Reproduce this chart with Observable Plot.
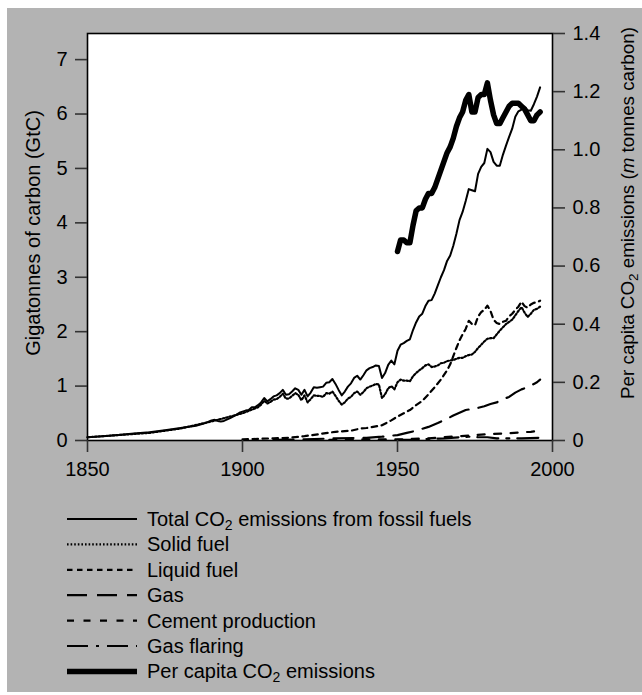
<!DOCTYPE html>
<html>
<head>
<meta charset="utf-8">
<script src="https://cdn.jsdelivr.net/npm/d3@7"></script>
<script src="https://cdn.jsdelivr.net/npm/@observablehq/plot@0.6"></script>
<style>
  html, body { margin: 0; padding: 0; background: #fff; }
  #page { position: relative; width: 642px; height: 695px; overflow: hidden;
          font-family: "Liberation Sans", Arial, Helvetica, sans-serif; }
  #panel { position: absolute; left: 7px; top: 8px; width: 635px; height: 684px; background: #b3b3b3; }
  #chart, #overlay { position: absolute; left: 0; top: 0; }
</style>
</head>
<body>
<div id="page">
  <div id="panel"></div>
  <div id="chart"></div>
  <svg id="overlay" width="642" height="695"></svg>
</div>
<script>
// Global carbon emissions from fossil fuels, 1850–1996 (GtC) and per-capita emissions (t C)
const total = [
  [1850,0.06],[1855,0.08],[1860,0.10],[1865,0.13],[1870,0.15],[1875,0.19],[1880,0.23],[1885,0.27],
  [1888,0.32],[1890,0.37],[1891,0.38],[1892,0.36],[1893,0.35],[1894,0.36],[1896,0.41],[1898,0.47],
  [1899,0.51],[1900,0.53],[1901,0.55],[1902,0.56],[1903,0.61],[1904,0.61],[1905,0.65],[1906,0.70],
  [1907,0.78],[1908,0.72],[1909,0.76],[1910,0.81],[1911,0.83],[1912,0.87],[1913,0.93],[1914,0.84],
  [1915,0.85],[1916,0.90],[1917,0.96],[1918,0.93],[1919,0.84],[1920,0.93],[1921,0.81],[1922,0.88],
  [1923,0.98],[1924,0.97],[1925,0.98],[1926,0.99],[1927,1.06],[1928,1.07],[1929,1.13],[1930,1.04],
  [1931,0.93],[1932,0.83],[1933,0.90],[1934,0.99],[1935,1.05],[1936,1.15],[1937,1.19],[1938,1.12],
  [1939,1.20],[1940,1.29],[1941,1.33],[1942,1.35],[1943,1.38],[1944,1.37],[1945,1.15],[1946,1.24],
  [1947,1.39],[1948,1.47],[1949,1.40],[1950,1.65],[1951,1.76],[1952,1.79],[1953,1.83],[1954,1.86],
  [1955,2.03],[1956,2.17],[1957,2.28],[1958,2.33],[1959,2.47],[1960,2.57],[1961,2.58],[1962,2.70],
  [1963,2.85],[1964,3.00],[1965,3.13],[1966,3.30],[1967,3.40],[1968,3.58],[1969,3.80],[1970,4.05],
  [1971,4.20],[1972,4.40],[1973,4.62],[1974,4.60],[1975,4.58],[1976,4.90],[1977,5.03],[1978,5.10],
  [1979,5.36],[1980,5.30],[1981,5.12],[1982,5.05],[1983,5.05],[1984,5.25],[1985,5.42],[1986,5.58],
  [1987,5.73],[1988,5.95],[1989,6.05],[1990,6.08],[1991,6.12],[1992,6.07],[1993,6.06],[1994,6.18],
  [1995,6.32],[1996,6.49]
];

const solidFuel = [
  [1850,0.06],[1860,0.10],[1870,0.14],[1880,0.22],[1890,0.35],[1900,0.50],[1905,0.61],[1906,0.66],
  [1907,0.73],[1908,0.68],[1909,0.71],[1910,0.75],[1911,0.76],[1912,0.80],[1913,0.86],[1914,0.77],
  [1915,0.77],[1916,0.82],[1917,0.87],[1918,0.84],[1919,0.74],[1920,0.83],[1921,0.70],[1922,0.76],
  [1923,0.83],[1924,0.82],[1925,0.82],[1926,0.80],[1927,0.87],[1928,0.86],[1929,0.90],[1930,0.82],
  [1931,0.73],[1932,0.66],[1933,0.70],[1934,0.77],[1935,0.80],[1936,0.87],[1937,0.90],[1938,0.84],
  [1939,0.89],[1940,0.96],[1941,0.99],[1942,1.01],[1943,1.04],[1944,1.03],[1945,0.78],[1946,0.85],
  [1947,0.96],[1948,1.00],[1949,0.94],[1950,1.07],[1951,1.12],[1952,1.10],[1953,1.10],[1954,1.09],
  [1955,1.18],[1956,1.24],[1957,1.29],[1958,1.33],[1959,1.38],[1960,1.40],[1961,1.35],[1962,1.36],
  [1963,1.38],[1964,1.42],[1965,1.43],[1966,1.46],[1967,1.47],[1968,1.48],[1969,1.50],[1970,1.52],
  [1971,1.52],[1972,1.55],[1973,1.57],[1974,1.58],[1975,1.63],[1976,1.70],[1977,1.76],[1978,1.82],
  [1979,1.87],[1980,1.88],[1981,1.88],[1982,1.95],[1983,2.02],[1984,2.08],[1985,2.14],[1986,2.18],
  [1987,2.22],[1988,2.30],[1989,2.38],[1990,2.45],[1991,2.35],[1992,2.27],[1993,2.33],[1994,2.40],
  [1995,2.42],[1996,2.46]
];

const liquidFuel = [
  [1900,0.02],[1905,0.03],[1910,0.04],[1915,0.05],[1920,0.08],[1925,0.12],[1930,0.16],[1935,0.18],
  [1938,0.22],[1940,0.23],[1945,0.28],[1948,0.37],[1950,0.44],[1952,0.50],[1954,0.56],[1956,0.65],
  [1958,0.73],[1960,0.85],[1962,0.98],[1964,1.12],[1966,1.29],[1967,1.40],[1968,1.55],[1969,1.70],
  [1970,1.84],[1971,1.95],[1972,2.05],[1973,2.20],[1974,2.14],[1975,2.12],[1976,2.28],[1977,2.36],
  [1978,2.40],[1979,2.48],[1980,2.38],[1981,2.22],[1982,2.16],[1983,2.14],[1984,2.18],[1985,2.20],
  [1986,2.28],[1987,2.33],[1988,2.40],[1989,2.46],[1990,2.55],[1991,2.47],[1992,2.44],[1993,2.50],
  [1994,2.53],[1995,2.54],[1996,2.57]
];

const gasFuel = [
  [1910,0.01],[1920,0.02],[1930,0.04],[1940,0.05],[1945,0.07],[1950,0.10],[1953,0.14],[1956,0.18],
  [1960,0.25],[1963,0.32],[1966,0.40],[1968,0.46],[1970,0.51],[1972,0.56],[1974,0.58],[1976,0.60],
  [1978,0.63],[1980,0.67],[1982,0.70],[1984,0.76],[1986,0.80],[1988,0.88],[1990,0.94],[1992,0.98],
  [1994,1.04],[1995,1.07],[1996,1.12]
];

const cement = [
  [1928,0.01],[1940,0.02],[1950,0.02],[1955,0.03],[1960,0.04],[1965,0.06],[1970,0.08],[1975,0.10],
  [1980,0.12],[1985,0.13],[1990,0.15],[1993,0.16],[1996,0.18]
];

const gasFlaring = [
  [1950,0.01],[1955,0.01],[1960,0.03],[1965,0.04],[1970,0.06],[1973,0.07],[1976,0.06],[1979,0.06],
  [1982,0.04],[1985,0.04],[1990,0.04],[1996,0.05]
];

const perCapita = [
  [1950,0.65],[1951,0.69],[1952,0.69],[1953,0.68],[1954,0.68],[1955,0.74],[1956,0.79],[1957,0.80],
  [1958,0.80],[1959,0.83],[1960,0.85],[1961,0.85],[1962,0.87],[1963,0.90],[1964,0.93],[1965,0.96],
  [1966,0.99],[1967,1.01],[1968,1.04],[1969,1.08],[1970,1.11],[1971,1.13],[1972,1.17],[1973,1.19],
  [1974,1.13],[1975,1.13],[1976,1.18],[1977,1.19],[1978,1.19],[1979,1.23],[1980,1.17],[1981,1.12],
  [1982,1.09],[1983,1.09],[1984,1.11],[1985,1.13],[1986,1.15],[1987,1.16],[1988,1.16],[1989,1.16],
  [1990,1.15],[1991,1.14],[1992,1.12],[1993,1.10],[1994,1.10],[1995,1.12],[1996,1.13]
];

const xTicks = [1850, 1900, 1950, 2000];
const yTicks = [0, 1, 2, 3, 4, 5, 6, 7];
const pcTicks = [0, 0.2, 0.4, 0.6, 0.8, 1.0, 1.2, 1.4];

// Left axis spans 0–7.48 GtC; the right axis (per capita) spans 0–1.4 over the same height
const yTop = 7.48;
const pcTop = 1.4;
const k = yTop / pcTop;

// Component series, drawn beneath the total and per-capita lines
const components = [
  {data: solidFuel,  width: 2.2, dash: "1.6,2"},
  {data: liquidFuel, width: 2.2, dash: "5.5,4.5"},
  {data: gasFuel,    width: 2.2, dash: "20,10"},
  {data: cement,     width: 2.2, dash: "7,9.5"},
  {data: gasFlaring, width: 2.2, dash: "21,8,3,8"}
];

const font = '"Liberation Sans", Arial, Helvetica, sans-serif';

const chart = Plot.plot({
  width: 642,
  height: 490,
  marginLeft: 87,
  marginRight: 90,
  marginTop: 33,
  marginBottom: 50,
  style: {background: "transparent", fontFamily: font, fontSize: "20px", color: "#000", overflow: "visible"},
  x: {domain: [1850, 2000]},
  y: {domain: [0, yTop]},
  marks: [
    Plot.frame({fill: "#fff", stroke: "none"}),
    ...components.slice().reverse().map(s =>
      Plot.line(s.data, {x: d => d[0], y: d => d[1], stroke: "#000", strokeWidth: s.width,
        strokeDasharray: s.dash, strokeLinejoin: "round"})
    ),
    Plot.line(total, {x: d => d[0], y: d => d[1], stroke: "#000", strokeWidth: 2, strokeLinejoin: "round"}),
    Plot.line(perCapita, {x: d => d[0], y: d => d[1] * k, stroke: "#000", strokeWidth: 5.5, strokeLinejoin: "round"}),
    Plot.frame({stroke: "#000", strokeWidth: 1.6}),
    Plot.axisY({anchor: "left", ticks: yTicks, tickSize: 12, tickPadding: 8, label: null,
      tickFormat: d => String(d), stroke: "#333", strokeWidth: 1.6, fill: "#000"}),
    Plot.axisY({anchor: "right", ticks: pcTicks.map(v => v * k), tickSize: 12, tickPadding: 8, label: null,
      tickFormat: d => { const v = Math.round(d / k * 5) / 5; return v === 0 ? "0" : v.toFixed(1); },
      stroke: "#333", strokeWidth: 1.6, fill: "#000"}),
    Plot.axisX({anchor: "bottom", ticks: xTicks, tickSize: 12, tickPadding: 9, label: null,
      tickFormat: d => String(d), stroke: "#333", strokeWidth: 1.6, fill: "#000"})
  ]
});
document.getElementById("chart").appendChild(chart);

// Axis titles and legend
const svg = d3.select("#overlay").style("font-family", font).style("font-size", "20px");

function addCO2(text, before, after, subSize) {
  text.append("tspan").text(before + "CO");
  text.append("tspan").attr("font-size", subSize).attr("baseline-shift", "-28%").text("2");
  text.append("tspan").text(after);
}

svg.append("text")
  .attr("transform", "translate(33,233) rotate(-90)")
  .attr("text-anchor", "middle").attr("dy", "0.35em").attr("fill", "#000")
  .text("Gigatonnes of carbon (GtC)");

const rt = svg.append("text")
  .attr("transform", "translate(627,213) rotate(-90)")
  .attr("text-anchor", "middle").attr("dy", "0.35em").attr("fill", "#000")
  .style("font-size", "18.8px");
rt.append("tspan").text("Per capita CO");
rt.append("tspan").attr("font-size", "13.5px").attr("baseline-shift", "-28%").text("2");
rt.append("tspan").text(" emissions (");
rt.append("tspan").attr("font-style", "italic").text("m");
rt.append("tspan").text(" tonnes carbon)");

const legendRows = [
  {dash: null, width: 2, label: ["Total ", " emissions from fossil fuels"]},
  {dash: "1.6,2", width: 2.2, label: "Solid fuel"},
  {dash: "5.5,4.5", width: 2.2, label: "Liquid fuel"},
  {dash: "20,10", width: 2.2, label: "Gas"},
  {dash: "7,9.5", width: 2.2, label: "Cement production"},
  {dash: "21,8,3,8", width: 2.2, label: "Gas flaring"},
  {dash: null, width: 5.5, label: ["Per capita ", " emissions"]}
];
const legendTop = 519, legendStep = 25.4;
legendRows.forEach((r, i) => {
  const y = legendTop + i * legendStep;
  svg.append("line").attr("x1", 67).attr("x2", 137).attr("y1", y).attr("y2", y)
    .attr("stroke", "#000").attr("stroke-width", r.width)
    .attr("stroke-dasharray", r.dash);
  const t = svg.append("text").attr("x", 147).attr("y", y).attr("dy", "0.35em").attr("fill", "#000");
  if (Array.isArray(r.label)) addCO2(t, r.label[0], r.label[1], "14px");
  else t.text(r.label);
});
</script>
</body>
</html>
